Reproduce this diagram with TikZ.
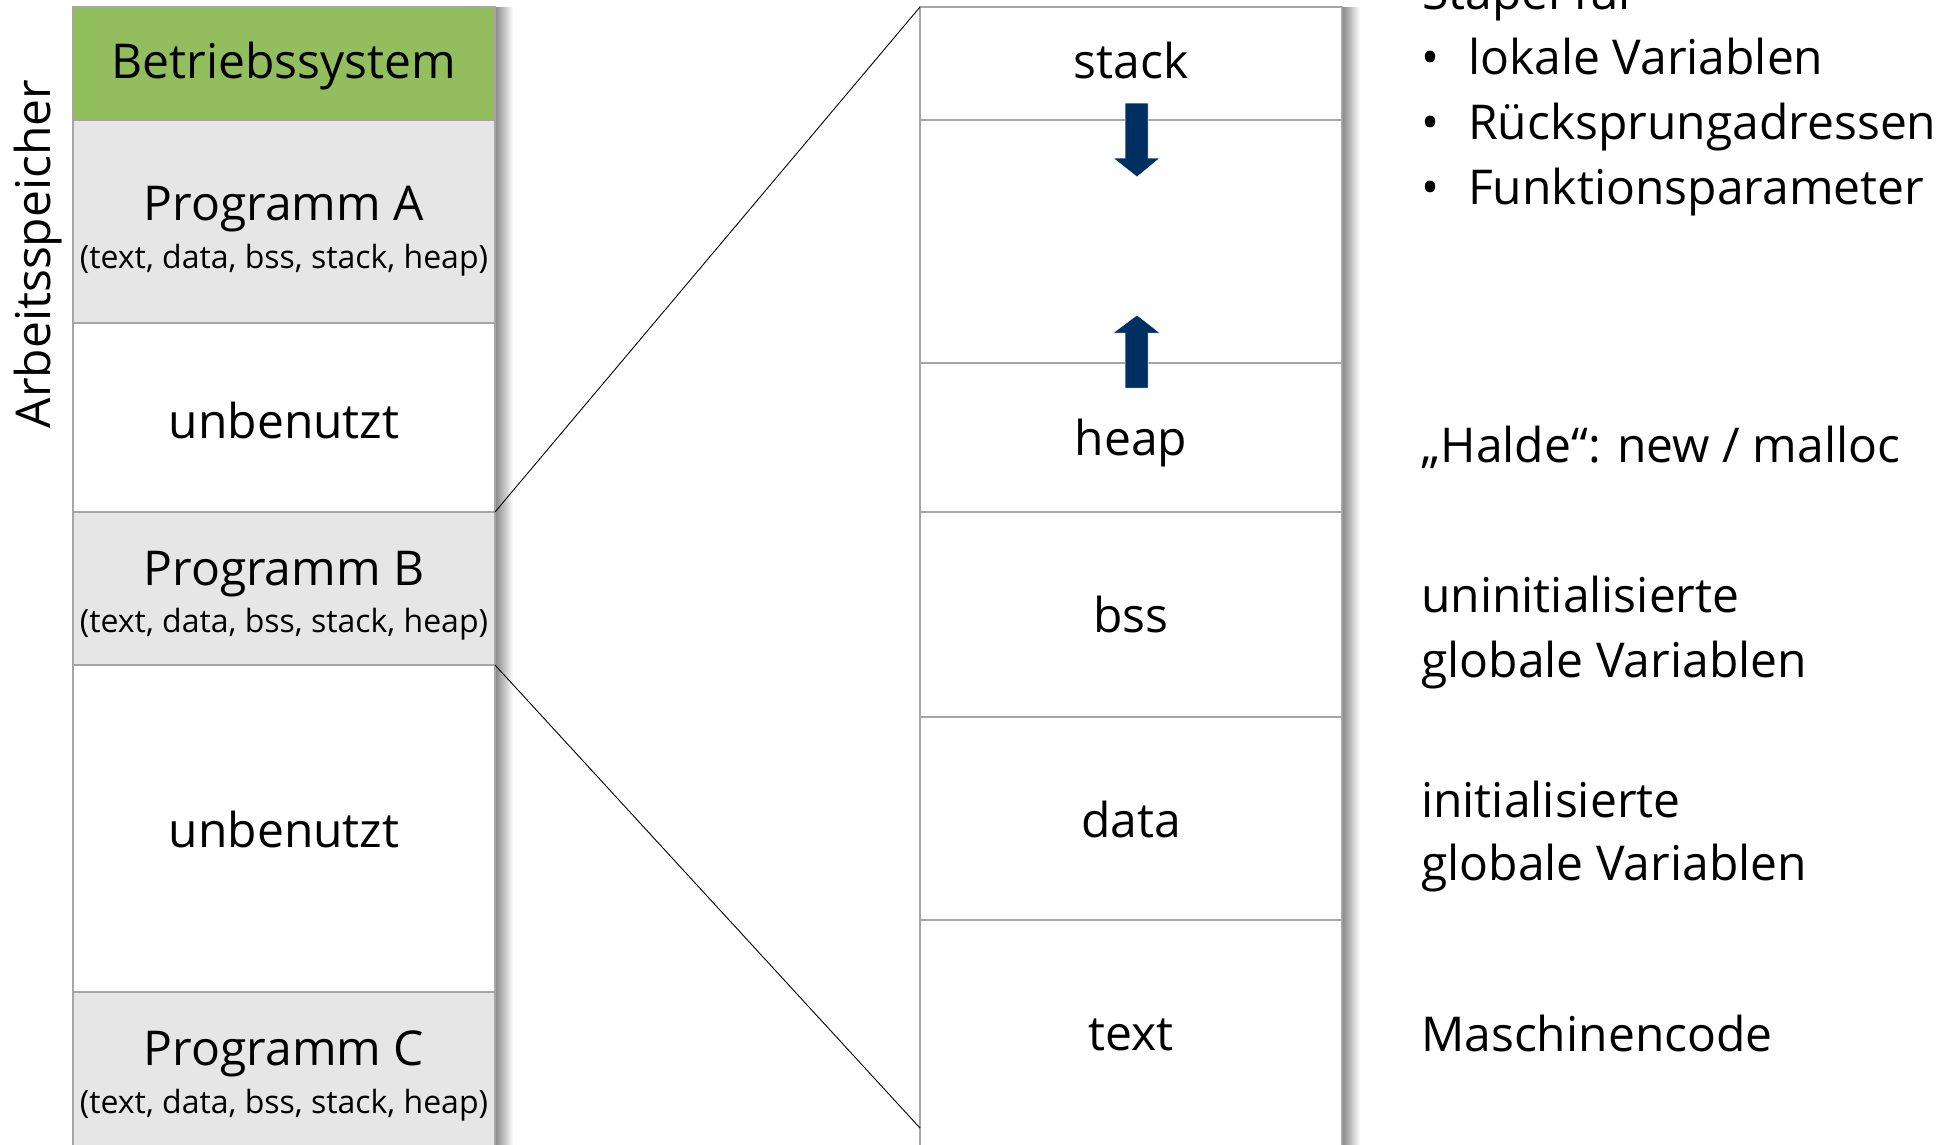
\documentclass[tikz,border=0pt]{standalone}
\usepackage{fontspec}
\setmainfont{Open Sans}
\definecolor{osgreen}{RGB}{146,190,94}
\definecolor{proggray}{RGB}{230,230,230}
\definecolor{bordergray}{RGB}{166,166,166}
\definecolor{arrownavy}{RGB}{0,48,96}
\begin{document}
\begin{tikzpicture}[x=1pt,y=-1pt,
  box/.style={draw=bordergray, line width=1.2pt, anchor=north west, minimum width=422pt, inner sep=0pt, outer sep=0pt},
  lbl/.style={font=\fontsize{48}{57}\selectfont, anchor=base, inner sep=0pt},
  sublbl/.style={font=\fontsize{32}{38}\selectfont, anchor=base, inner sep=0pt},
  side/.style={font=\fontsize{48}{57}\selectfont, anchor=base west, inner sep=0pt},
  conn/.style={draw=black, line width=0.9pt},
  growarrow/.style={fill=arrownavy, draw=white, line width=0.5pt}]
\useasboundingbox (0,0) rectangle (1949,1144);
\fill[white] (0,0) rectangle (1949,1144);
% shadows
\shade[left color=black!50, right color=white] (494,7) rectangle (513,1150);
\shade[left color=black!50, right color=white] (1341,7) rectangle (1360,1150);
% left column
\node[box, fill=osgreen, minimum height=113pt] (os) at (73,7) {};
\node[box, fill=proggray, minimum height=203pt] (pa) at (73,120) {};
\node[box, fill=white, minimum height=189pt] (u1) at (73,323) {};
\node[box, fill=proggray, minimum height=153pt] (pb) at (73,512) {};
\node[box, fill=white, minimum height=327pt] (u2) at (73,665) {};
\node[box, fill=proggray, minimum height=170pt] (pc) at (73,992) {};
% right column
\node[box, fill=white, minimum height=113pt] (stack) at (920,7) {};
\node[box, fill=white, minimum height=243pt] (free) at (920,120) {};
\node[box, fill=white, minimum height=149pt] (heap) at (920,363) {};
\node[box, fill=white, minimum height=205pt] (bss) at (920,512) {};
\node[box, fill=white, minimum height=203pt] (data) at (920,717) {};
\node[box, fill=white, minimum height=240pt] (text) at (920,920) {};
% left labels
\node[lbl] (tos) at (284,78) {Betriebssystem};
\node[lbl] (tpa) at (284,220) {Programm A};
\node[sublbl] (spa) at (284,268) {(text, data, bss, stack, heap)};
\node[lbl] (tu1) at (284,438) {unbenutzt};
\node[lbl] (tpb) at (284,585) {Programm B};
\node[sublbl] (spb) at (284,632) {(text, data, bss, stack, heap)};
\node[lbl] (tu2) at (284,847) {unbenutzt};
\node[lbl] (tpc) at (284,1065) {Programm C};
\node[sublbl] (spc) at (284,1113) {(text, data, bss, stack, heap)};
\node[lbl, rotate=90] (arb) at (50,254) {Arbeitsspeicher};
% right labels
\node[lbl] (tstack) at (1131,78) {stack};
\node[lbl] (theap) at (1131,455) {heap};
\node[lbl] (tbss) at (1131,632) {bss};
\node[lbl] (tdata) at (1131,837) {data};
\node[lbl] (ttext) at (1131,1050) {text};
% connectors
\coordinate (zbot) at (920,1128);
\draw[conn] (u1.south east) -- (stack.north west);
\draw[conn] (pb.south east) -- (zbot);
% growth arrows
\draw[growarrow] (1125,103) -- (1148,103) -- (1148,158) -- (1160,158) -- (1137,177) -- (1113,158) -- (1125,158) -- cycle;
\draw[growarrow] (1125,388) -- (1148,388) -- (1148,333) -- (1160,333) -- (1137,315) -- (1113,333) -- (1125,333) -- cycle;
% side descriptions
\node[side] (stapel) at (1422,9) {Stapel für};
\node[lbl] (b1) at (1431,74) {•};
\node[side] (l1) at (1468,74) {lokale Variablen};
\node[lbl] (b2) at (1431,139) {•};
\node[side] (l2) at (1468,139) {Rücksprungadressen};
\node[lbl] (b3) at (1431,204) {•};
\node[side] (l3) at (1468,204) {Funktionsparameter};
\node[side] (halde) at (1421,462) {„Halde“: new / malloc};
\node[side] (uninit) at (1421,612) {uninitialisierte};
\node[side] (glob1) at (1421,677) {globale Variablen};
\node[side] (init) at (1421,817) {initialisierte};
\node[side] (glob2) at (1421,880) {globale Variablen};
\node[side] (masch) at (1421,1051) {Maschinencode};
\end{tikzpicture}
\end{document}
